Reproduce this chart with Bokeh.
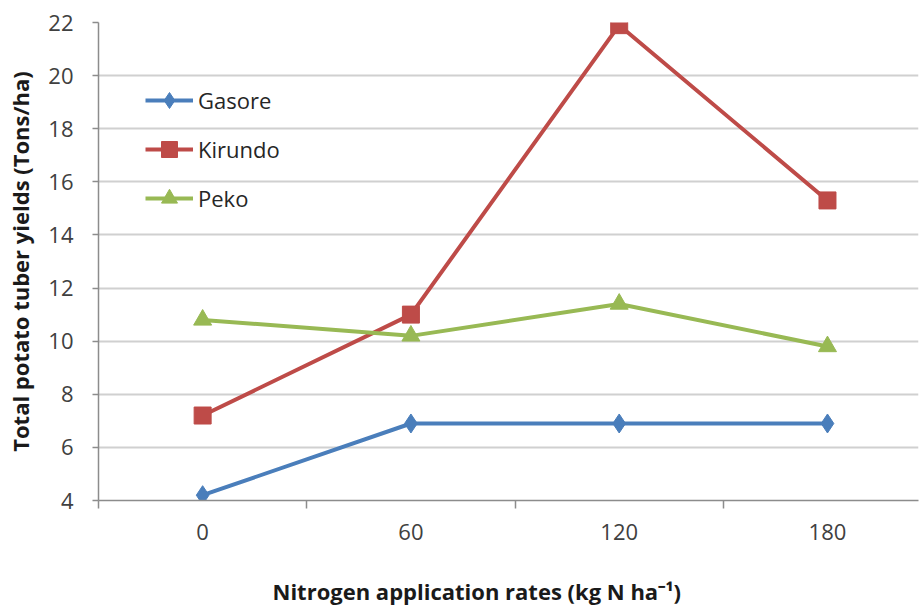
from bokeh.plotting import figure
from bokeh.models import Range1d, FixedTicker, Legend, LegendItem, Title
from bokeh.embed import file_html
from bokeh.resources import INLINE

# ---- data ----
rates = ["0", "60", "120", "180"]
gasore = [4.2, 6.9, 6.9, 6.9]
kirundo = [7.2, 11.0, 21.9, 15.3]
peko = [10.8, 10.2, 11.4, 9.8]
y_ticks = [4, 6, 8, 10, 12, 14, 16, 18, 20, 22]

# category centres on a numeric axis (each category is one unit wide)
xc = [i + 0.5 for i in range(len(rates))]
bounds = list(range(len(rates) + 1))

FONT = "Open Sans"
BLUE, RED, GREEN = "#4A7EBB", "#BE4B48", "#98B954"
GRID = "#D0D0D0"
AXIS = "#8C8C8C"

p = figure(frame_width=820, frame_height=478,
           x_range=Range1d(0, 3.937), y_range=Range1d(4, 22),
           output_backend="svg", toolbar_location=None,
           min_border_left=98, min_border_right=2,
           min_border_top=22, min_border_bottom=110)
p.outline_line_color = None
p.background_fill_color = "white"
p.border_fill_color = "white"

# grid
p.xgrid.visible = False
p.ygrid.ticker = FixedTicker(ticks=y_ticks)
p.ygrid.grid_line_color = GRID
p.ygrid.grid_line_width = 2

# y axis
ya = p.yaxis[0]
ya.ticker = FixedTicker(ticks=y_ticks, minor_ticks=[])
ya.axis_line_color = AXIS
ya.axis_line_width = 1.5
ya.major_tick_line_color = AXIS
ya.major_tick_line_width = 1.5
ya.major_tick_out = 6
ya.major_tick_in = 0
ya.minor_tick_line_color = None
ya.major_label_text_font = FONT
ya.major_label_text_font_size = "22px"
ya.major_label_text_color = "#404040"
ya.major_label_standoff = 19
ya.axis_label = "Total potato tuber yields (Tons/ha)"
ya.axis_label_text_font = FONT
ya.axis_label_text_font_style = "bold"
ya.axis_label_text_font_size = "22px"
ya.axis_label_text_color = "#1A1A1A"
ya.axis_label_standoff = 10

# x axis
xa = p.xaxis[0]
xa.ticker = FixedTicker(ticks=xc, minor_ticks=bounds)
xa.major_label_overrides = {x: r for x, r in zip(xc, rates)}
xa.axis_line_color = AXIS
xa.axis_line_width = 1.5
xa.major_tick_line_color = None
xa.major_tick_out = 0
xa.major_tick_in = 0
xa.minor_tick_line_color = AXIS
xa.minor_tick_line_width = 1.5
xa.minor_tick_out = 8
xa.minor_tick_in = 0
xa.major_label_text_font = FONT
xa.major_label_text_font_size = "22px"
xa.major_label_text_color = "#404040"
xa.major_label_standoff = 15

# x axis title (slightly left of the frame centre, as in the reference)
x_title = Title(text="Nitrogen application rates (kg N ha\u207b\u00b9)",
                align="left", offset=174, standoff=62,
                text_font=FONT, text_font_style="bold", text_font_size="22px",
                text_color="#1A1A1A")
p.add_layout(x_title, "below")

# series
items = []
specs = [("Gasore", gasore, BLUE, "diamond", 19),
         ("Kirundo", kirundo, RED, "square", 17),
         ("Peko", peko, GREEN, "triangle", 18)]
for name, vals, col, marker, size in specs:
    ln = p.line(xc, vals, line_color=col, line_width=4)
    sc = p.scatter(xc, vals, marker=marker, size=size,
                   fill_color=col, line_color=col, line_width=1)
    items.append(LegendItem(label=name, renderers=[ln, sc]))

legend = Legend(items=items, location=(47, 282),
                orientation="vertical",
                glyph_width=48, glyph_height=40, label_height=20,
                spacing=9, padding=0, margin=0, label_standoff=5,
                label_text_font=FONT, label_text_font_size="22px",
                label_text_color="#262626",
                border_line_color=None, background_fill_alpha=0)
p.add_layout(legend, "center")

open("out.html", "w").write(file_html(p, INLINE))
